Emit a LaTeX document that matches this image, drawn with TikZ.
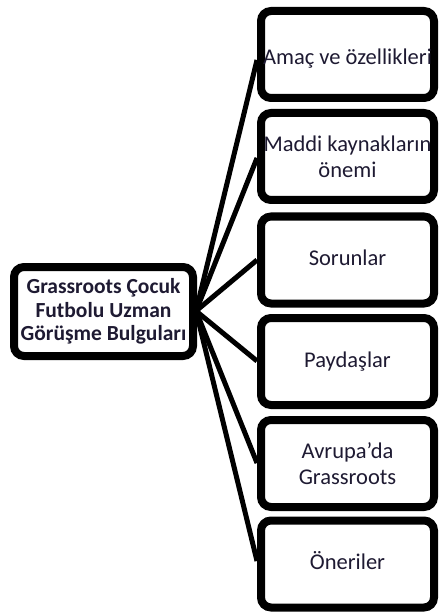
\documentclass[tikz,border=0pt]{standalone}
\usepackage{fontspec}
\setmainfont{Carlito}
\usetikzlibrary{backgrounds}
\definecolor{txt}{RGB}{30,26,50}
\tikzset{
  hubbox/.style={draw=black, fill=white, line width=8pt, rounded corners=10pt,
    minimum width=179pt, minimum height=89pt, align=center,
    inner sep=0pt, text=txt,
    font=\fontsize{21.5pt}{23.5pt}\selectfont\bfseries},
  itembox/.style={draw=black, fill=white, line width=8pt, rounded corners=10pt,
    minimum width=173pt, minimum height=87pt,
    inner sep=0pt, text=txt,
    font=\fontsize{22.5pt}{26pt}\selectfont},
  multi/.style={align=center},
  single/.style={text height=15pt, text depth=4pt}
}
\tikzset{conn/.style={draw=black, line width=5pt}}
\begin{document}
\begin{tikzpicture}[x=1pt,y=-1pt]
\useasboundingbox (0,0) rectangle (440,612);
\node[hubbox] (c) at (103.5,311.5) {Grassroots Çocuk\\Futbolu Uzman\\Görüşme Bulguları};
\node[itembox, text height=25pt, text depth=4pt] (b1) at (347.5,54.5) {Amaç ve özellikleri};
\node[itembox, multi] (b2) at (347.5,156.5) {Maddi kaynakların\\önemi};
\node[itembox, single] (b3) at (347.5,260) {Sorunlar};
\node[itembox, single] (b4) at (347.5,361.5) {Paydaşlar};
\node[itembox, multi] (b5) at (347.5,463.5) {Avrupa’da\\Grassroots};
\node[itembox, single] (b6) at (347.5,564) {Öneriler};
\coordinate (hub) at (196,311);
\begin{scope}[on background layer]
\foreach \i/\yy in {b1/60, b2/158, b3/260, b4/361, b5/463, b6/561}{
  \draw[conn] (hub) -- (\i.west |- 0,\yy);
}
\end{scope}
\end{tikzpicture}
\end{document}
